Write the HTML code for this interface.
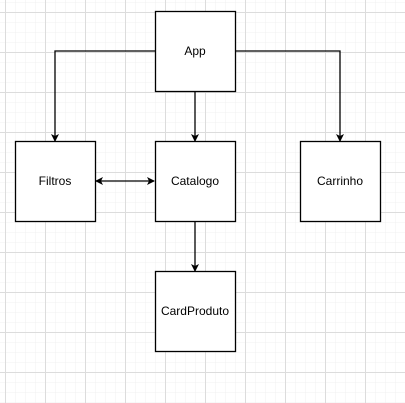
<!DOCTYPE html><html><head><style>body{margin:0;background:#fff}svg{display:block}</style></head><body>
<svg width="405" height="403" xmlns="http://www.w3.org/2000/svg" font-family="Liberation Sans, sans-serif" font-size="12">
<defs>
<pattern id="m" width="10" height="10" patternUnits="userSpaceOnUse" x="5" y="2"><path d="M0 0H10M0 0V10" stroke="#f0f0f0" fill="none"/></pattern>
<pattern id="M" width="40" height="40" patternUnits="userSpaceOnUse" x="5" y="12"><path d="M0 0.5H40M0.5 0V40" stroke="#dcdcdc" fill="none"/></pattern>
<marker id="a" markerWidth="8" markerHeight="8" refX="7" refY="4" orient="auto" markerUnits="userSpaceOnUse"><path d="M0 0L8 4L0 8L2 4Z" fill="#000"/></marker>
<marker id="b" markerWidth="8" markerHeight="8" refX="1" refY="4" orient="auto" markerUnits="userSpaceOnUse"><path d="M8 0L0 4L8 8L6 4Z" fill="#000"/></marker>
</defs>
<rect width="405" height="403" fill="url(#m)"/><rect width="405" height="403" fill="url(#M)"/>
<g stroke="#000" fill="none" stroke-width="1.3">
<path d="M155 51H55V141" marker-end="url(#a)"/>
<path d="M235 51H340V141" marker-end="url(#a)"/>
<path d="M195 91V141" marker-end="url(#a)"/>
<path d="M195 221V271" marker-end="url(#a)"/>
<path d="M96 181H154" marker-end="url(#a)" marker-start="url(#b)"/>
</g>
<g stroke="#000" fill="#fff" stroke-width="1.3">
<rect x="155.5" y="11.5" width="80" height="80"/>
<rect x="15.5" y="141.5" width="80" height="80"/>
<rect x="155.5" y="141.5" width="80" height="80"/>
<rect x="300.5" y="141.5" width="80" height="80"/>
<rect x="155.5" y="271.5" width="80" height="80"/>
</g>
<g text-anchor="middle" fill="#000">
<text x="195" y="55">App</text><text x="55" y="185">Filtros</text><text x="195" y="185">Catalogo</text><text x="340" y="185">Carrinho</text><text x="195" y="315">CardProduto</text>
</g>
</svg></body></html>
